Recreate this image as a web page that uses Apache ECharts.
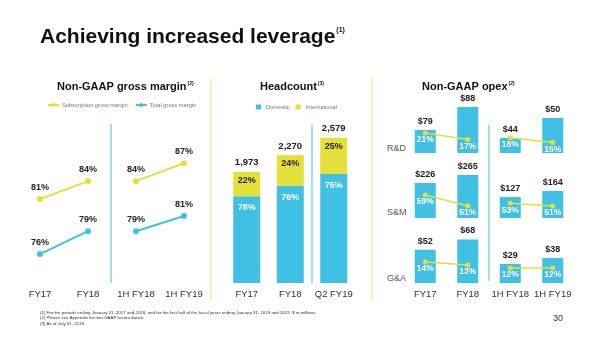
<!DOCTYPE html>
<html>
<head>
<meta charset="utf-8">
<script src="https://cdn.jsdelivr.net/npm/echarts@6/dist/echarts.min.js"></script>
<style>html,body{margin:0;padding:0;background:#fff}#c{width:600px;height:337px}</style>
</head>
<body>
<div id="c"></div>
<script>
// ---- Data ----
const gmCategories = ['FY17', 'FY18', '1H FY18', '1H FY19'];
const subscriptionFY = [81, 84, null, null];
const subscription1H = [null, null, 84, 87];
const totalFY = [76, 79, null, null];
const total1H = [null, null, 79, 81];

const hcCategories = ['FY17', 'FY18', 'Q2 FY19'];
const hcDomestic = [1539, 1725, 1934];
const hcInternational = [434, 545, 645];
const hcDomesticPct = ['78%', '76%', '75%'];
const hcInternationalPct = ['22%', '24%', '25%'];
const hcTotalLabels = ['1,973', '2,270', '2,579'];

const opexCategories = ['FY17', 'FY18', '1H FY18', '1H FY19'];
const rdSpend = [79, 88, 44, 50];
const rdPct = [21, 17, 18, 15];
const smSpend = [226, 265, 127, 164];
const smPct = [59, 51, 53, 51];
const gaSpend = [52, 68, 29, 38];
const gaPct = [14, 13, 12, 12];

const footnotes = [
  '(1) For the periods ending January 31, 2017 and 2018, and for the first half of the fiscal years ending January 31, 2018 and 2019. $ in millions.',
  '(2) Please see Appendix for non-GAAP reconciliation.',
  '(3) As of July 31, 2018.'
];

// ---- Styles ----
const BLUE = '#41c0e6';
const YEL = '#e3e03a';
const FONT = 'Liberation Sans, Arial, sans-serif';

const fyOnly = a => a.map((v, i) => (i < 2 ? v : null));
const hOnly = a => a.map((v, i) => (i >= 2 ? v : null));

function subTitle(text, sup, left) {
  return {
    text: '{t|' + text + '}{s|' + sup + '}',
    left: left, top: 81, padding: 0,
    textStyle: { rich: {
      t: { fontFamily: FONT, fontSize: 11, fontWeight: 'bold', color: '#111' },
      s: { fontFamily: FONT, fontSize: 5, fontWeight: 'bold', color: '#111', verticalAlign: 'top', padding: [0, 0, 4, 1] }
    } }
  };
}

const gmLine = (name, data, yIdx, color) => ({
  name, type: 'line', xAxisIndex: 0, yAxisIndex: yIdx, data, clip: false,
  symbol: 'circle', symbolSize: 6, color,
  lineStyle: { width: 2, color }, itemStyle: { color },
  label: { show: true, position: 'top', distance: 4, formatter: p => p.value + '%',
    fontFamily: FONT, fontSize: 9, fontWeight: 'bold', color: '#222' }
});

const opexBar = (data, xIdx, yIdx) => ({
  type: 'bar', xAxisIndex: xIdx, yAxisIndex: yIdx, data,
  barWidth: 21, barGap: '-100%', itemStyle: { color: BLUE },
  label: { show: true, position: 'top', distance: 4, formatter: p => '$' + p.value,
    fontFamily: FONT, fontSize: 9, fontWeight: 'bold', color: '#222' }
});
const opexLine = (data, xIdx, yIdx) => ({
  type: 'line', xAxisIndex: xIdx, yAxisIndex: yIdx, data, z: 5, clip: false,
  symbol: 'circle', symbolSize: 5, lineStyle: { width: 1.5, color: YEL }, itemStyle: { color: YEL },
  label: { show: true, position: 'bottom', distance: 0, formatter: p => p.value + '%',
    fontFamily: FONT, fontSize: 8.5, fontWeight: 'bold', color: '#fff' }
});

const hiddenY = (grid, min, max) => ({ type: 'value', gridIndex: grid, min, max, show: false });
const catX = (grid, data, showLabels) => ({
  type: 'category', gridIndex: grid, data,
  axisLine: { show: false }, axisTick: { show: false }, splitLine: { show: false },
  axisLabel: { show: showLabels, interval: 0, margin: 6, fontFamily: FONT, fontSize: 9.5, color: '#333' }
});

const option = {
  backgroundColor: '#fff',
  animation: false,
  title: [
    {
      text: '{t|Achieving increased leverage}{s|(1)}', left: 40, top: 27, padding: 0,
      textStyle: { rich: {
        t: { fontFamily: FONT, fontSize: 21, fontWeight: 'bold', color: '#111' },
        s: { fontFamily: FONT, fontSize: 7, fontWeight: 'bold', color: '#111', verticalAlign: 'top', padding: [0, 0, 10, 1] }
      } }
    },
    subTitle('Non-GAAP gross margin', '(2)', 57),
    subTitle('Headcount', '(3)', 260),
    subTitle('Non-GAAP opex', '(2)', 422)
  ],
  legend: [
    { data: ['Subscription gross margin', 'Total gross margin'], left: 42, top: 97, itemGap: 7,
      itemWidth: 11, itemHeight: 5, textStyle: { fontFamily: FONT, fontSize: 5.7, color: '#777', padding: [0, 0, 0, -2] } },
    { data: ['Domestic', 'International'], left: 251, top: 99, itemGap: 6, icon: 'rect',
      itemWidth: 5, itemHeight: 5, textStyle: { fontFamily: FONT, fontSize: 5.7, color: '#777' } }
  ],
  grid: [
    { left: 16, width: 192, top: 120, height: 163 },
    { left: 225, width: 130.5, top: 114, height: 169 },
    { left: 404, width: 170, top: 90, height: 63 },
    { left: 404, width: 170, top: 160, height: 58 },
    { left: 404, width: 170, top: 225, height: 58 }
  ],
  xAxis: [
    catX(0, gmCategories, true),
    catX(1, hcCategories, true),
    catX(2, opexCategories, false),
    catX(3, opexCategories, false),
    catX(4, opexCategories, true)
  ],
  yAxis: [
    hiddenY(0, 67, 94.2),
    hiddenY(0, 72.2, 93.6),
    hiddenY(1, 0, 3000),
    hiddenY(2, 70, 94.65), hiddenY(2, 39.5, 58.4), hiddenY(2, 8.5, 47.9),
    hiddenY(3, 55.4, 338.2), hiddenY(3, 0, 351.5), hiddenY(3, 42.3, 84.45),
    hiddenY(4, 0, 90.6), hiddenY(4, 0, 88.4), hiddenY(4, 7, 26.33)
  ],
  series: [
    gmLine('Subscription gross margin', subscriptionFY, 0, YEL),
    gmLine('Subscription gross margin', subscription1H, 0, YEL),
    gmLine('Total gross margin', totalFY, 1, BLUE),
    gmLine('Total gross margin', total1H, 1, BLUE),

    { name: 'Domestic', type: 'bar', stack: 'hc', xAxisIndex: 1, yAxisIndex: 2, data: hcDomestic,
      barWidth: 27, itemStyle: { color: BLUE },
      label: { show: true, position: 'insideTop', distance: 7, formatter: p => hcDomesticPct[p.dataIndex],
        fontFamily: FONT, fontSize: 9, fontWeight: 'bold', color: '#fff' } },
    { name: 'International', type: 'bar', stack: 'hc', xAxisIndex: 1, yAxisIndex: 2, data: hcInternational,
      barWidth: 27, itemStyle: { color: YEL },
      label: { show: true, position: 'insideTop', distance: 4, formatter: p => hcInternationalPct[p.dataIndex],
        fontFamily: FONT, fontSize: 9, fontWeight: 'bold', color: '#222' } },
    { name: 'Total', type: 'bar', stack: 'hc', xAxisIndex: 1, yAxisIndex: 2, data: hcTotalLabels.map(() => 0),
      barWidth: 27, itemStyle: { color: 'transparent' },
      label: { show: true, position: 'top', distance: 4, formatter: p => hcTotalLabels[p.dataIndex],
        fontFamily: FONT, fontSize: 9.5, fontWeight: 'bold', color: '#222' } },

    opexBar(fyOnly(rdSpend), 2, 3), opexBar(hOnly(rdSpend), 2, 4),
    opexLine(fyOnly(rdPct), 2, 5), opexLine(hOnly(rdPct), 2, 5),
    opexBar(fyOnly(smSpend), 3, 6), opexBar(hOnly(smSpend), 3, 7),
    opexLine(fyOnly(smPct), 3, 8), opexLine(hOnly(smPct), 3, 8),
    opexBar(fyOnly(gaSpend), 4, 9), opexBar(hOnly(gaSpend), 4, 10),
    opexLine(fyOnly(gaPct), 4, 11), opexLine(hOnly(gaPct), 4, 11)
  ],
  graphic: [
    { type: 'line', shape: { x1: 111, y1: 124, x2: 111, y2: 283 }, style: { stroke: BLUE, lineWidth: 1 } },
    { type: 'line', shape: { x1: 211, y1: 78, x2: 211, y2: 300 }, style: { stroke: '#f0ee9e', lineWidth: 1.5 } },
    { type: 'line', shape: { x1: 312, y1: 125, x2: 312, y2: 283 }, style: { stroke: BLUE, lineWidth: 1 } },
    { type: 'line', shape: { x1: 372, y1: 78, x2: 372, y2: 300 }, style: { stroke: '#f0ee9e', lineWidth: 1.5 } },
    { type: 'line', shape: { x1: 489, y1: 125, x2: 489, y2: 281 }, style: { stroke: BLUE, lineWidth: 1 } },
    { type: 'text', left: 387, top: 144, style: { text: 'R&D', fontFamily: FONT, fontSize: 9, fill: '#555' } },
    { type: 'text', left: 387, top: 208, style: { text: 'S&M', fontFamily: FONT, fontSize: 9, fill: '#555' } },
    { type: 'text', left: 387, top: 274, style: { text: 'G&A', fontFamily: FONT, fontSize: 9, fill: '#555' } },
    { type: 'text', left: 40, top: 310, style: { text: footnotes.join('\n'), fontFamily: FONT, fontSize: 4.4, lineHeight: 5.5, fill: '#333' } },
    { type: 'text', left: 553, top: 314, style: { text: '30', fontFamily: FONT, fontSize: 9, fill: '#333' } }
  ]
};

const chart = echarts.init(document.getElementById('c'), null, { renderer: 'canvas' });
chart.setOption(option);
</script>
</body>
</html>
